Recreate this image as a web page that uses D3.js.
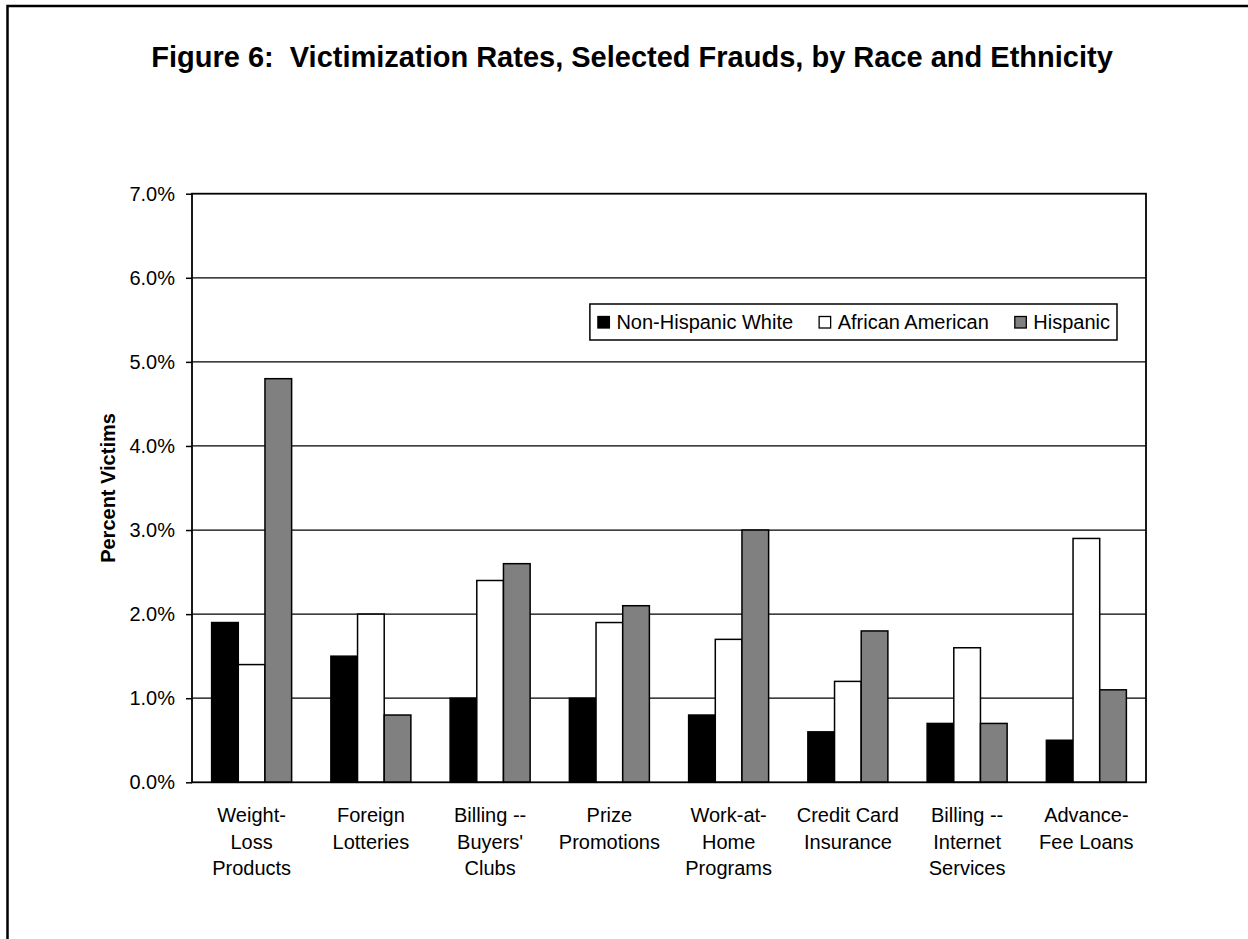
<!DOCTYPE html>
<html>
<head>
<meta charset="utf-8">
<script src="https://cdn.jsdelivr.net/npm/d3@7"></script>
<style>
  html, body { margin: 0; padding: 0; background: #fff; }
  svg { display: block; font-family: Arial, "Liberation Sans", sans-serif; }
</style>
</head>
<body>
<svg id="chart" width="1248" height="939"></svg>
<script>
// Fraud categories (each label split into the lines it is printed on)
const categories = [
  ["Weight-", "Loss", "Products"],
  ["Foreign", "Lotteries"],
  ["Billing --", "Buyers'", "Clubs"],
  ["Prize", "Promotions"],
  ["Work-at-", "Home", "Programs"],
  ["Credit Card", "Insurance"],
  ["Billing --", "Internet", "Services"],
  ["Advance-", "Fee Loans"]
];
const seriesNames = ["Non-Hispanic White", "African American", "Hispanic"];
// Percent of each group victimized, per category
const nonHispanicWhite = [1.9, 1.5, 1.0, 1.0, 0.8, 0.6, 0.7, 0.5];
const africanAmerican  = [1.4, 2.0, 2.4, 1.9, 1.7, 1.2, 1.6, 2.9];
const hispanic         = [4.8, 0.8, 2.6, 2.1, 3.0, 1.8, 0.7, 1.1];
const yTicks = [0, 1, 2, 3, 4, 5, 6, 7];
const seriesFill = ["#000000", "#ffffff", "#808080"];

const seriesValues = [nonHispanicWhite, africanAmerican, hispanic];
const catKeys = categories.map(c => c.join(" "));
const rows = catKeys.map((k, i) => ({
  key: k,
  lines: categories[i],
  values: seriesNames.map((s, j) => ({ series: s, idx: j, value: seriesValues[j][i] }))
}));

const svg = d3.select("#chart");
const plot = { left: 192, right: 1146, top: 193.7, bottom: 782.3 };

// Outer frame
svg.append("rect")
  .attr("x", 7.5).attr("y", 6).attr("width", 1400).attr("height", 1100)
  .attr("fill", "none").attr("stroke", "#000").attr("stroke-width", 2.5);

// Title
svg.append("text")
  .attr("x", 632).attr("y", 67)
  .attr("text-anchor", "middle")
  .attr("font-weight", "bold").attr("font-size", 29)
  .attr("fill", "#000")
  .style("white-space", "pre")
  .text("Figure 6:  Victimization Rates, Selected Frauds, by Race and Ethnicity");

const x0 = d3.scaleBand().domain(catKeys).range([plot.left, plot.right]).padding(0);
const groupW = 80;
const x1 = d3.scaleBand().domain(seriesNames)
  .range([(x0.bandwidth() - groupW) / 2, (x0.bandwidth() + groupW) / 2]).padding(0);
const y = d3.scaleLinear().domain([0, 7]).range([plot.bottom, plot.top]);

// Gridlines
svg.append("g")
  .selectAll("line").data(yTicks.filter(t => t > 0 && t < 7)).join("line")
  .attr("x1", plot.left).attr("x2", plot.right)
  .attr("y1", d => y(d)).attr("y2", d => y(d))
  .attr("stroke", "#000").attr("stroke-width", 1.2);

// Bars
const groups = svg.append("g").selectAll("g").data(rows).join("g")
  .attr("transform", d => `translate(${x0(d.key)},0)`);
groups.selectAll("rect").data(d => d.values).join("rect")
  .attr("x", d => x1(d.series))
  .attr("width", x1.bandwidth())
  .attr("y", d => y(d.value))
  .attr("height", d => y(0) - y(d.value))
  .attr("fill", d => seriesFill[d.idx])
  .attr("stroke", "#000").attr("stroke-width", 1.5);

// Plot frame
svg.append("rect")
  .attr("x", plot.left).attr("y", plot.top)
  .attr("width", plot.right - plot.left).attr("height", plot.bottom - plot.top)
  .attr("fill", "none").attr("stroke", "#000").attr("stroke-width", 1.8);

// Y axis
const yAxis = d3.axisLeft(y).tickValues(yTicks).tickSize(6).tickPadding(11)
  .tickFormat(d => d3.format(".1f")(d) + "%");
const yg = svg.append("g").attr("transform", `translate(${plot.left},0)`).call(yAxis);
yg.select(".domain").remove();
yg.selectAll(".tick line").attr("stroke", "#000").attr("stroke-width", 1.5);
yg.selectAll(".tick text").attr("font-size", 20).attr("fill", "#000")
  .attr("font-family", "Arial, 'Liberation Sans', sans-serif");

// Y axis title
svg.append("text")
  .attr("transform", `translate(115,488) rotate(-90)`)
  .attr("text-anchor", "middle")
  .attr("font-weight", "bold").attr("font-size", 20)
  .text("Percent Victims");

// X category labels
const xl = svg.append("g").selectAll("text").data(rows).join("text")
  .attr("x", d => x0(d.key) + x0.bandwidth() / 2)
  .attr("y", 822)
  .attr("text-anchor", "middle").attr("font-size", 20).attr("fill", "#000");
xl.selectAll("tspan").data(d => d.lines).join("tspan")
  .attr("x", function () { return d3.select(this.parentNode).attr("x"); })
  .attr("dy", (d, i) => i === 0 ? 0 : 26.7)
  .text(d => d);

// Legend
const legend = svg.append("g");
const lgRight = 1117, lgTop = 304, lgH = 36;
const sq = 11.5, sqGap = 7, itemGap = 26, padL = 8, padR = 7;
const items = legend.selectAll("g").data(seriesNames).join("g");
items.append("text").attr("font-size", 20).attr("fill", "#000")
  .attr("y", lgTop + 25).text(d => d);
const widths = [];
items.select("text").each(function () { widths.push(this.getComputedTextLength()); });
const total = widths.reduce((a, b) => a + b, 0) + seriesNames.length * (sq + sqGap)
  + (seriesNames.length - 1) * itemGap + padL + padR;
const lgLeft = lgRight - total;
let cx = lgLeft + padL;
items.each(function (d, i) {
  const g = d3.select(this);
  g.insert("rect", "text")
    .attr("x", cx).attr("y", lgTop + 12.5).attr("width", sq).attr("height", sq)
    .attr("fill", seriesFill[i]).attr("stroke", "#000").attr("stroke-width", 1.3);
  g.select("text").attr("x", cx + sq + sqGap);
  cx += sq + sqGap + widths[i] + itemGap;
});
legend.insert("rect", "g")
  .attr("x", lgLeft).attr("y", lgTop).attr("width", total).attr("height", lgH)
  .attr("fill", "#fff").attr("stroke", "#000").attr("stroke-width", 1.5);
</script>
</body>
</html>
